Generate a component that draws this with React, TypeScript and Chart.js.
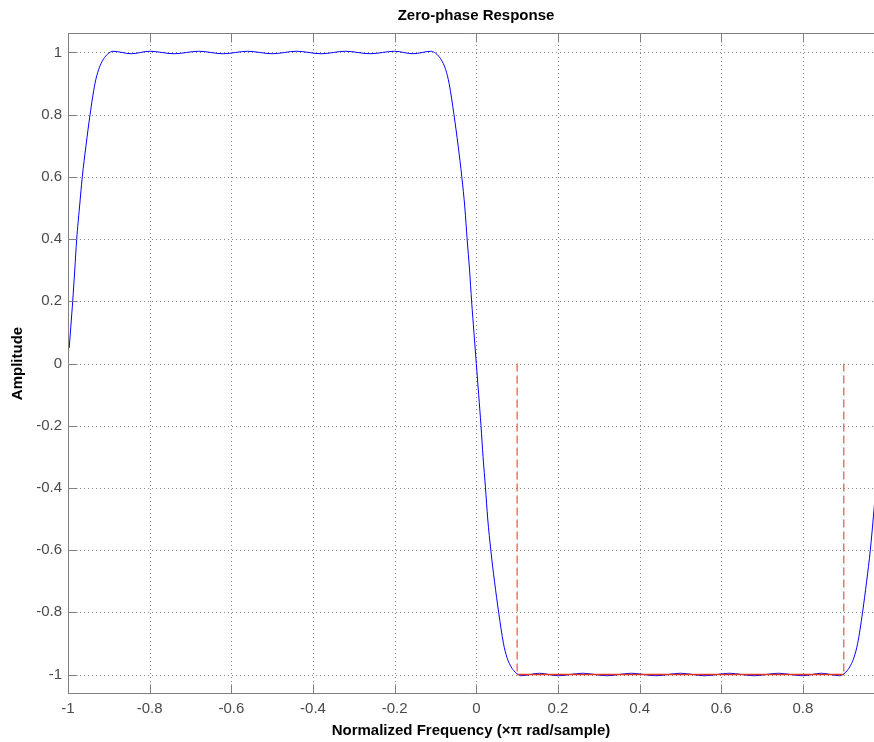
import React, { useEffect, useRef } from "react";
import { Chart, registerables } from "chart.js";

Chart.register(...registerables);

const titleText = "Zero-phase Response";
const xLabel = "Normalized Frequency (\u00d7\u03c0 rad/sample)";
const yLabel = "Amplitude";

const xTicks = [-1, -0.8, -0.6, -0.4, -0.2, 0, 0.2, 0.4, 0.6, 0.8];
const yTicks = [-1, -0.8, -0.6, -0.4, -0.2, 0, 0.2, 0.4, 0.6, 0.8, 1];
const xMin = -1;
const xMax = 0.974;
const yMin = -1.0627;
const yMax = 1.0627;

const responseX = [
  -0.997, -0.993, -0.9885, -0.9835, -0.9787, -0.972, -0.965, -0.956, -0.946, -0.934, -0.925, -0.917, -0.908, -0.9, -0.89,
  -0.845, -0.8, -0.74, -0.68, -0.62, -0.56, -0.5, -0.44, -0.38, -0.32, -0.26, -0.2, -0.155, -0.11,
  -0.1, -0.092, -0.083, -0.075, -0.0665, -0.0547, -0.0445, -0.0355, -0.028, -0.0225, -0.0165, -0.0115, -0.0058, 0,
  0.0058, 0.0115, 0.0165, 0.0225, 0.028, 0.0355, 0.0445, 0.0547, 0.0665, 0.075, 0.083, 0.092, 0.1, 0.11,
  0.155, 0.2, 0.26, 0.32, 0.38, 0.44, 0.5, 0.56, 0.62, 0.68, 0.74, 0.8, 0.845, 0.89,
  0.9, 0.908, 0.917, 0.925, 0.934, 0.946, 0.956, 0.965, 0.972, 0.9787,
];
const responseY = [
  0.05, 0.12, 0.2, 0.3, 0.4, 0.5, 0.6, 0.7, 0.8, 0.9, 0.945, 0.97, 0.988, 0.998, 1.004,
  0.996, 1.004, 0.996, 1.004, 0.996, 1.004, 0.996, 1.004, 0.996, 1.004, 0.996, 1.004, 0.996, 1.004,
  0.998, 0.988, 0.97, 0.945, 0.9, 0.8, 0.7, 0.6, 0.5, 0.4, 0.3, 0.2, 0.1, 0,
  -0.1, -0.2, -0.3, -0.4, -0.5, -0.6, -0.7, -0.8, -0.9, -0.945, -0.97, -0.988, -0.998, -1.004,
  -0.996, -1.004, -0.996, -1.004, -0.996, -1.004, -0.996, -1.004, -0.996, -1.004, -0.996, -1.004, -0.996, -1.004,
  -0.998, -0.988, -0.97, -0.945, -0.9, -0.8, -0.7, -0.6, -0.5, -0.4,
];

const maskEdges = [0.1, 0.9];
const maskLevel = -1;
const maskTop = 0;

const FONT = "'Liberation Sans', Arial, Helvetica, sans-serif";
const AXIS_COLOR = "#808080";
const GRID_COLOR = "#8a8a8a";
const LABEL_COLOR = "#4a4a4a";

const matlabAxes = {
  id: "matlabAxes",
  beforeDatasetsDraw(chart: any) {
    const { ctx, chartArea } = chart;
    const xs = chart.scales.x;
    const ys = chart.scales.y;
    ctx.save();
    ctx.strokeStyle = GRID_COLOR;
    ctx.lineWidth = 1;
    ctx.setLineDash([1, 3]);
    for (const v of xTicks) {
      const px = Math.round(xs.getPixelForValue(v)) + 0.5;
      ctx.beginPath();
      ctx.moveTo(px, chartArea.top);
      ctx.lineTo(px, chartArea.bottom);
      ctx.stroke();
    }
    for (const v of yTicks) {
      const py = Math.round(ys.getPixelForValue(v)) + 0.5;
      ctx.beginPath();
      ctx.moveTo(chartArea.left, py);
      ctx.lineTo(chartArea.right, py);
      ctx.stroke();
    }
    ctx.restore();
  },
  afterDatasetsDraw(chart: any) {
    const { ctx, chartArea } = chart;
    const xs = chart.scales.x;
    const ys = chart.scales.y;
    const L = Math.round(chartArea.left) + 0.5;
    const T = Math.round(chartArea.top) + 0.5;
    const B = Math.round(chartArea.bottom) - 0.5;
    const R = chartArea.right + 2;
    const tl = 9;
    ctx.save();
    ctx.strokeStyle = AXIS_COLOR;
    ctx.lineWidth = 1;
    ctx.setLineDash([]);
    ctx.beginPath();
    ctx.moveTo(R, T);
    ctx.lineTo(L, T);
    ctx.lineTo(L, B);
    ctx.lineTo(R, B);
    ctx.stroke();
    for (const v of xTicks) {
      const px = Math.round(xs.getPixelForValue(v)) + 0.5;
      ctx.beginPath();
      ctx.moveTo(px, B);
      ctx.lineTo(px, B - tl);
      ctx.moveTo(px, T);
      ctx.lineTo(px, T + tl);
      ctx.stroke();
    }
    for (const v of yTicks) {
      const py = Math.round(ys.getPixelForValue(v)) + 0.5;
      ctx.beginPath();
      ctx.moveTo(L, py);
      ctx.lineTo(L + tl, py);
      ctx.stroke();
    }
    ctx.restore();
  },
  afterDraw(chart: any) {
    const { ctx } = chart;
    ctx.save();
    ctx.fillStyle = "#000";
    ctx.font = `bold 15px ${FONT}`;
    ctx.textAlign = "center";
    ctx.textBaseline = "middle";
    ctx.fillText(titleText, 476, 16);
    ctx.restore();
  },
};

export default function App() {
  const canvasRef = useRef<HTMLCanvasElement | null>(null);

  useEffect(() => {
    const canvas = canvasRef.current;
    if (!canvas) return;
    const responsePoints = responseX.map((x, i) => ({ x, y: responseY[i] }));
    const datasets: any[] = [
      {
        label: "mask-floor",
        data: [
          { x: maskEdges[0], y: maskLevel },
          { x: maskEdges[1], y: maskLevel },
        ],
        borderColor: "#e0381c",
        borderWidth: 1.6,
        pointRadius: 0,
        order: 0,
      },
      ...maskEdges.map((e) => ({
        label: "mask-edge",
        data: [
          { x: e, y: maskTop },
          { x: e, y: maskLevel },
        ],
        borderColor: "#e3664c",
        borderWidth: 1.3,
        borderDash: [8, 4],
        pointRadius: 0,
        order: 1,
      })),
      {
        label: "response",
        data: responsePoints,
        borderColor: "#0000ff",
        borderWidth: 1,
        pointRadius: 0,
        cubicInterpolationMode: "monotone",
        order: 2,
      },
    ];
    const tickFont = { family: FONT, size: 15 };
    const titleFont = { family: FONT, size: 15, weight: "bold" as const };
    const chart = new Chart(canvas, {
      type: "line",
      data: { datasets },
      options: {
        responsive: false,
        animation: false,
        devicePixelRatio: 1,
        layout: { padding: { top: 33, left: 0, right: 0, bottom: 0 } },
        plugins: {
          legend: { display: false },
          tooltip: { enabled: false },
          title: { display: false },
        },
        scales: {
          x: {
            type: "linear",
            min: xMin,
            max: xMax,
            afterBuildTicks: (s: any) => {
              s.ticks = xTicks.map((v) => ({ value: v }));
            },
            afterFit: (s: any) => {
              s.height = 48;
            },
            grid: { display: false, drawTicks: false },
            border: { display: false },
            ticks: {
              padding: 6,
              font: tickFont,
              color: LABEL_COLOR,
              maxRotation: 0,
              autoSkip: false,
              callback: (v: any) => String(Math.round(Number(v) * 10) / 10),
            },
            title: {
              display: true,
              text: xLabel,
              font: titleFont,
              color: "#000",
              padding: { top: 0, bottom: 2 },
            },
          },
          y: {
            type: "linear",
            min: yMin,
            max: yMax,
            afterBuildTicks: (s: any) => {
              s.ticks = yTicks.map((v) => ({ value: v }));
            },
            afterFit: (s: any) => {
              s.width = 68;
            },
            grid: { display: false, drawTicks: false },
            border: { display: false },
            ticks: {
              padding: 6,
              font: tickFont,
              color: LABEL_COLOR,
              autoSkip: false,
              callback: (v: any) => String(Math.round(Number(v) * 10) / 10),
            },
            title: {
              display: true,
              text: yLabel,
              font: titleFont,
              color: "#000",
              padding: { top: 9, bottom: 0 },
            },
          },
        },
      },
      plugins: [matlabAxes],
    });
    return () => chart.destroy();
  }, []);

  return (
    <div style={{ position: "absolute", left: 0, top: 0, width: 874, height: 742, overflow: "hidden", background: "#fff" }}>
      <canvas ref={canvasRef} width={874} height={742} style={{ display: "block" }} />
    </div>
  );
}
